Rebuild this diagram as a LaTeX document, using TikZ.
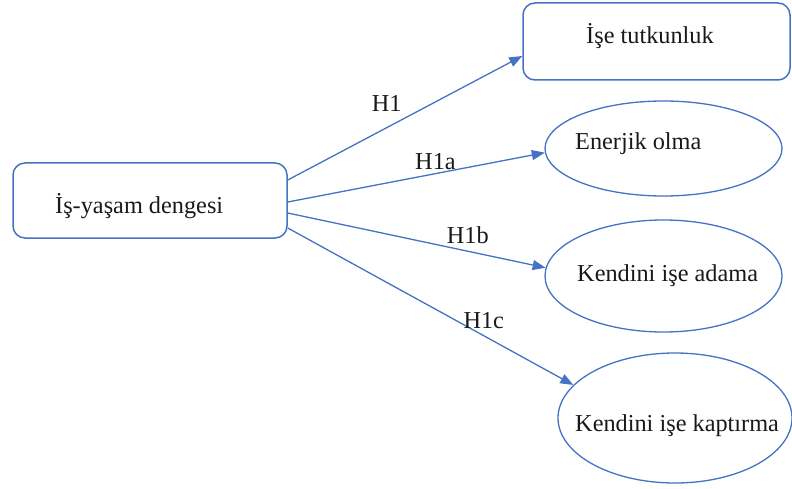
\documentclass[tikz,border=0pt]{standalone}
\usepackage{fontspec}
\setmainfont{Liberation Serif}
\usetikzlibrary{shapes.geometric,arrows.meta}
\definecolor{lineblue}{RGB}{68,114,196}
\begin{document}
\begin{tikzpicture}[x=1pt,y=-1pt,
  rbox/.style={draw=lineblue,line width=1.5pt,rectangle,rounded corners=12pt,inner sep=0pt},
  oval/.style={draw=lineblue,line width=1.3pt,ellipse,inner sep=0pt},
  txt/.style={anchor=base west,inner sep=0pt,text=black!90,font=\fontsize{24.3}{28}\selectfont},
  conn/.style={draw=lineblue,line width=1.3pt,-{Triangle[length=13pt,width=10pt]}}]
\useasboundingbox (0,0) rectangle (792,489);
\node[rbox,minimum width=274pt,minimum height=75pt] (lb) at (150,200.5) {};
\node[rbox,minimum width=267pt,minimum height=77pt] (tb) at (656.5,41.5) {};
\node[oval,minimum width=237pt,minimum height=95pt] (e1) at (663.5,148.5) {};
\node[oval,minimum width=237pt,minimum height=112pt] (e2) at (663.5,276) {};
\node[oval,minimum width=234pt,minimum height=130pt] (e3) at (675,418) {};
\node[txt] (tlb) at (55,214) {İş-yaşam dengesi};
\node[txt] (ttb) at (586,43.3) {İşe tutkunluk};
\node[txt] (te1) at (575,150) {Enerjik olma};
\node[txt] (te2) at (577,281.7) {Kendini işe adama};
\node[txt] (te3) at (575,431.7) {Kendini işe kaptırma};
\draw[conn] ([yshift=20.5pt]lb.east) -- ([yshift=-14.5pt]tb.west);
\draw[conn] ([yshift=-1.5pt]lb.east) -- (e1.182);
\draw[conn] ([yshift=-12.5pt]lb.east) -- (e2.176);
\draw[conn] ([yshift=-27.5pt]lb.east) -- (e3.162);
\node[txt] (h1) at (371.7,111.7) {H1};
\node[txt] (h1a) at (415,169.3) {H1a};
\node[txt] (h1b) at (446.7,243.3) {H1b};
\node[txt] (h1c) at (463.3,328.3) {H1c};
\end{tikzpicture}
\end{document}
